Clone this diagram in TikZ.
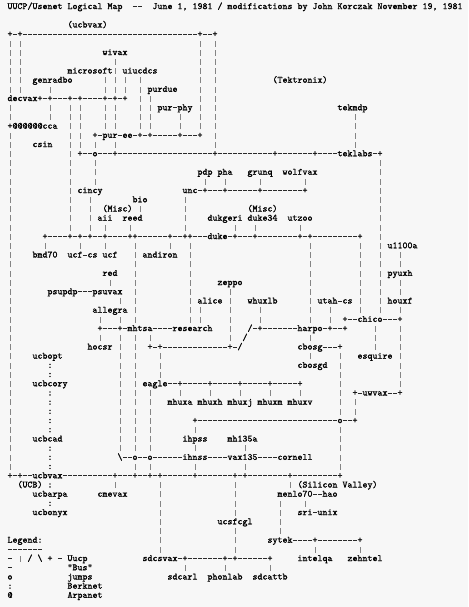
\documentclass[tikz,border=0pt]{standalone}
\usepackage{fontspec}
\newfontfamily\mapfont[FakeBold=1.2]{lmmono10-regular.otf}
\definecolor{bgc}{HTML}{F7F7F7}
\definecolor{barc}{HTML}{858585}
\definecolor{dashc}{HTML}{2A2A2A}
\newlength\cw
\setlength\cw{5pt}
\newcommand\C[2]{\rlap{\hskip#1\cw\relax#2}}
\newcommand\hd{\hbox to\cw{\hss\textcolor{dashc}{\vrule height 2.95pt depth -2.05pt width 4.4pt}\hss}}
\newcommand\hb{\hbox to\cw{\hss\textcolor{barc}{\vrule height 5.3pt depth 0.7pt width 0.8pt}\hss}}
\newcommand\Dn[1]{\foreach\dnum in {1,...,#1}{\hd}}
\newcommand\Bs[1]{\foreach\bcol in {#1}{\C{\bcol}{\hb}}}
\tikzset{mrow/.style={anchor=base west, inner sep=0pt, outer sep=0pt, xshift=2pt, yshift=-9.1pt, text=black,
  font={\mapfont\fontsize{9.5238pt}{9.2pt}\selectfont\spaceskip=5pt\relax}}}
\begin{document}
\begin{tikzpicture}[x=5pt,y=-9.2pt]
\fill[bgc] (0pt,0pt) rectangle (468pt,-607pt);
\useasboundingbox (0pt,0pt) rectangle (468pt,-607pt);
\node[mrow] (r0) at (0,0) {\C{1}{UUCP/Usenet Logical Map}\C{26}{\hd\hd}\C{30}{June 1, 1981 / modifications by John Korczak November 19, 1981}};
\node[mrow] (r2) at (0,2) {\C{13}{(ucbvax)}};
\node[mrow] (r3) at (0,3) {\C{1}{+\hd+\Dn{35}+\hd\hd+}};
\node[mrow] (r4) at (0,4) {\Bs{1,3,39,42}};
\node[mrow] (r5) at (0,5) {\Bs{1,3,39,42}\C{20}{wivax}};
\node[mrow] (r6) at (0,6) {\Bs{1,3,22,39,42}};
\node[mrow] (r7) at (0,7) {\Bs{1,3,22,39,42}\C{13}{microsoft}\C{24}{uiucdcs}};
\node[mrow] (r8) at (0,8) {\Bs{1,3,20,22,24,27,39,42}\C{6}{genradbo}\C{54}{(Tektronix)}};
\node[mrow] (r9) at (0,9) {\Bs{1,3,9,20,22,24,27,39,42}\C{29}{purdue}};
\node[mrow] (r10) at (0,10) {\C{1}{decvax+\hd+\Dn{3}+\hd+\Dn{4}+\hd+\hd+}\Bs{27,29,39,42}};
\node[mrow] (r11) at (0,11) {\Bs{1,9,13,15,20,22,27,29,39,42}\C{31}{pur\hd phy}\C{67}{tekmdp}};
\node[mrow] (r12) at (0,12) {\Bs{1,9,13,15,20,22,27,29,35,39,42,70}};
\node[mrow] (r13) at (0,13) {\C{1}{+@@@@@@cca}\Bs{13,15,20,22,27,29,35,39,42,70}};
\node[mrow] (r14) at (0,14) {\Bs{1,13,15,42,70}\C{18}{+\hd pur\hd ee\hd+\hd+\Dn{5}+\Dn{3}+}};
\node[mrow] (r15) at (0,15) {\Bs{1,13,15,18,22,42,70}\C{6}{csin}};
\node[mrow] (r16) at (0,16) {\Bs{1,13}\C{15}{+\hd\hd o\Dn{3}+\Dn{19}+\Dn{11}+\Dn{7}+\Dn{4}teklabs\hd+}};
\node[mrow] (r17) at (0,17) {\Bs{1,13,18,75}};
\node[mrow] (r18) at (0,18) {\Bs{1,13,18,75}\C{39}{pdp}\C{43}{pha}\C{49}{grunq}\C{56}{wolfvax}};
\node[mrow] (r19) at (0,19) {\Bs{1,13,18,40,44,51,60,75}};
\node[mrow] (r20) at (0,20) {\Bs{1,13,75}\C{15}{cincy}\C{36}{unc\hd+\Dn{3}+\Dn{6}+\Dn{8}+}};
\node[mrow] (r21) at (0,21) {\Bs{1,13,17,36,75}\C{26}{bio}};
\node[mrow] (r22) at (0,22) {\Bs{1,13,17,27,36,75}\C{20}{(Misc)}\C{49}{(Misc)}};
\node[mrow] (r23) at (0,23) {\Bs{1,13,17,36,75}\C{19}{aii}\C{24}{reed}\C{41}{dukgeri}\C{49}{duke34}\C{57}{utzoo}};
\node[mrow] (r24) at (0,24) {\Bs{1,13,17,20,25,36,46,50,59,75}};
\node[mrow] (r25) at (0,25) {\Bs{1,75}\C{8}{+\Dn{4}+\hd+\hd+\hd\hd+\Dn{4}++\Dn{6}+\hd\hd++\Dn{3}duke\hd+\Dn{3}+\Dn{8}+\hd+\Dn{9}+}};
\node[mrow] (r26) at (0,26) {\Bs{1,8,15,20,26,33,37,61,71,75}\C{77}{u1100a}};
\node[mrow] (r27) at (0,27) {\Bs{1,26,37,61,71,75,79}\C{6}{bmd70}\C{13}{ucf\hd cs}\C{20}{ucf}\C{28}{andiron}};
\node[mrow] (r28) at (0,28) {\Bs{1,26,37,61,71,75,79}};
\node[mrow] (r29) at (0,29) {\Bs{1,26,37,61,71,75}\C{20}{red}\C{77}{pyuxh}};
\node[mrow] (r30) at (0,30) {\Bs{1,21,26,37,61,71,75,79}\C{43}{zeppo}};
\node[mrow] (r31) at (0,31) {\Bs{1,26,37,45,61,71,75,79}\C{9}{psupdp\Dn{3}psuvax}};
\node[mrow] (r32) at (0,32) {\Bs{1,23,26,37,45,61,71,75}\C{39}{alice}\C{49}{whuxlb}\C{63}{utah\hd cs}\C{77}{houxf}};
\node[mrow] (r33) at (0,33) {\Bs{1,26,37,39,45,51,61,65,71,75,79}\C{18}{allegra}};
\node[mrow] (r34) at (0,34) {\Bs{1,19,23,26,37,39,45,51,61,65}\C{68}{+\hd\hd chico\Dn{3}+}};
\node[mrow] (r35) at (0,35) {\Bs{1,45,74,79}\C{19}{+\Dn{3}+\hd mhtsa\Dn{4}research}\C{49}{/\hd+\Dn{7}harpo\hd+\hd\hd+}};
\node[mrow] (r36) at (0,36) {\Bs{1,19,23,26,29,45,61,74,79}\C{48}{/}};
\node[mrow] (r37) at (0,37) {\Bs{1,23,26,74,79}\C{17}{hocsr}\C{29}{+\hd+\Dn{13}+\hd/}\C{59}{cbosg\Dn{3}+}};
\node[mrow] (r38) at (0,38) {\Bs{1,23,26,31,61,67,79}\C{6}{ucbopt}\C{71}{esquire}};
\node[mrow] (r39) at (0,39) {\Bs{1,23,26,31,67,79}\C{9}{:}\C{59}{cbosgd}};
\node[mrow] (r40) at (0,40) {\Bs{1,23,26,31,67,79}\C{9}{:}};
\node[mrow] (r41) at (0,41) {\Bs{1,23,26,67,79}\C{6}{ucbcory}\C{28}{eagle\hd\hd+\Dn{5}+\Dn{5}+\Dn{5}+\Dn{5}+}};
\node[mrow] (r42) at (0,42) {\Bs{1,23,26,29,35,41,47,53,59,67}\C{9}{:}\C{70}{+\hd uwvax\hd\hd+}};
\node[mrow] (r43) at (0,43) {\Bs{1,23,26,29,67,70}\C{9}{:}\C{33}{mhuxa}\C{39}{mhuxh}\C{45}{mhuxj}\C{51}{mhuxm}\C{57}{mhuxv}};
\node[mrow] (r44) at (0,44) {\Bs{1,23,26,29,67,70}\C{9}{:}};
\node[mrow] (r45) at (0,45) {\Bs{1,23,26,29}\C{9}{:}\C{38}{+\Dn{28}o\hd\hd+}};
\node[mrow] (r46) at (0,46) {\Bs{1,23,26,29,38,67}\C{9}{:}};
\node[mrow] (r47) at (0,47) {\Bs{1,23,26,29,67}\C{6}{ucbcad}\C{36}{ihpss}\C{45}{mh135a}};
\node[mrow] (r48) at (0,48) {\Bs{1,23,26,29,38,48,67}\C{9}{:}};
\node[mrow] (r49) at (0,49) {\Bs{1,67}\C{9}{:}\C{23}{\textbackslash\hd\hd o\hd\hd o\Dn{6}ihnss\Dn{4}vax135\Dn{4}cornell}};
\node[mrow] (r50) at (0,50) {\Bs{1,26,29,38,48,67}\C{9}{:}};
\node[mrow] (r51) at (0,51) {\C{1}{+\hd+\hd\hd ucbvax\Dn{10}+\Dn{3}+\hd\hd+\hd+\Dn{6}+\Dn{7}+\hd+\Dn{8}+\Dn{9}+}};
\node[mrow] (r52) at (0,52) {\Bs{22,31,46,57}\C{3}{(UCB)}\C{9}{:}\C{59}{(Silicon Valley)}};
\node[mrow] (r53) at (0,53) {\Bs{31,46}\C{6}{ucbarpa}\C{19}{cmevax}\C{55}{menlo70\hd\hd hao}};
\node[mrow] (r54) at (0,54) {\Bs{31,46,55,60}\C{9}{:}};
\node[mrow] (r55) at (0,55) {\Bs{31,46,55}\C{6}{ucbonyx}\C{59}{sri\hd unix}};
\node[mrow] (r56) at (0,56) {\Bs{31,55}\C{43}{ucsfcgl}};
\node[mrow] (r57) at (0,57) {\Bs{31,46,55}};
\node[mrow] (r58) at (0,58) {\Bs{31,46}\C{1}{Legend:}\C{53}{sytek\Dn{4}+\Dn{8}+}};
\node[mrow] (r59) at (0,59) {\Bs{31,46,62,71}\C{1}{\Dn{7}}};
\node[mrow] (r60) at (0,60) {\C{1}{\hd}\C{3}{\hb}\C{5}{/}\C{7}{\textbackslash}\C{9}{+}\C{11}{\hd}\C{13}{Uucp}\C{28}{sdcsvax\hd+\Dn{7}+\hd+\Dn{6}+}\C{59}{intelqa}\C{69}{zehntel}};
\node[mrow] (r61) at (0,61) {\Bs{36,44,53}\C{1}{\hd}\C{13}{"Bus"}};
\node[mrow] (r62) at (0,62) {\C{1}{o}\C{13}{jumps}\C{33}{sdcarl}\C{41}{phonlab}\C{50}{sdcattb}};
\node[mrow] (r63) at (0,63) {\C{1}{:}\C{13}{Berknet}};
\node[mrow] (r64) at (0,64) {\C{1}{@}\C{13}{Arpanet}};
\end{tikzpicture}
\end{document}
